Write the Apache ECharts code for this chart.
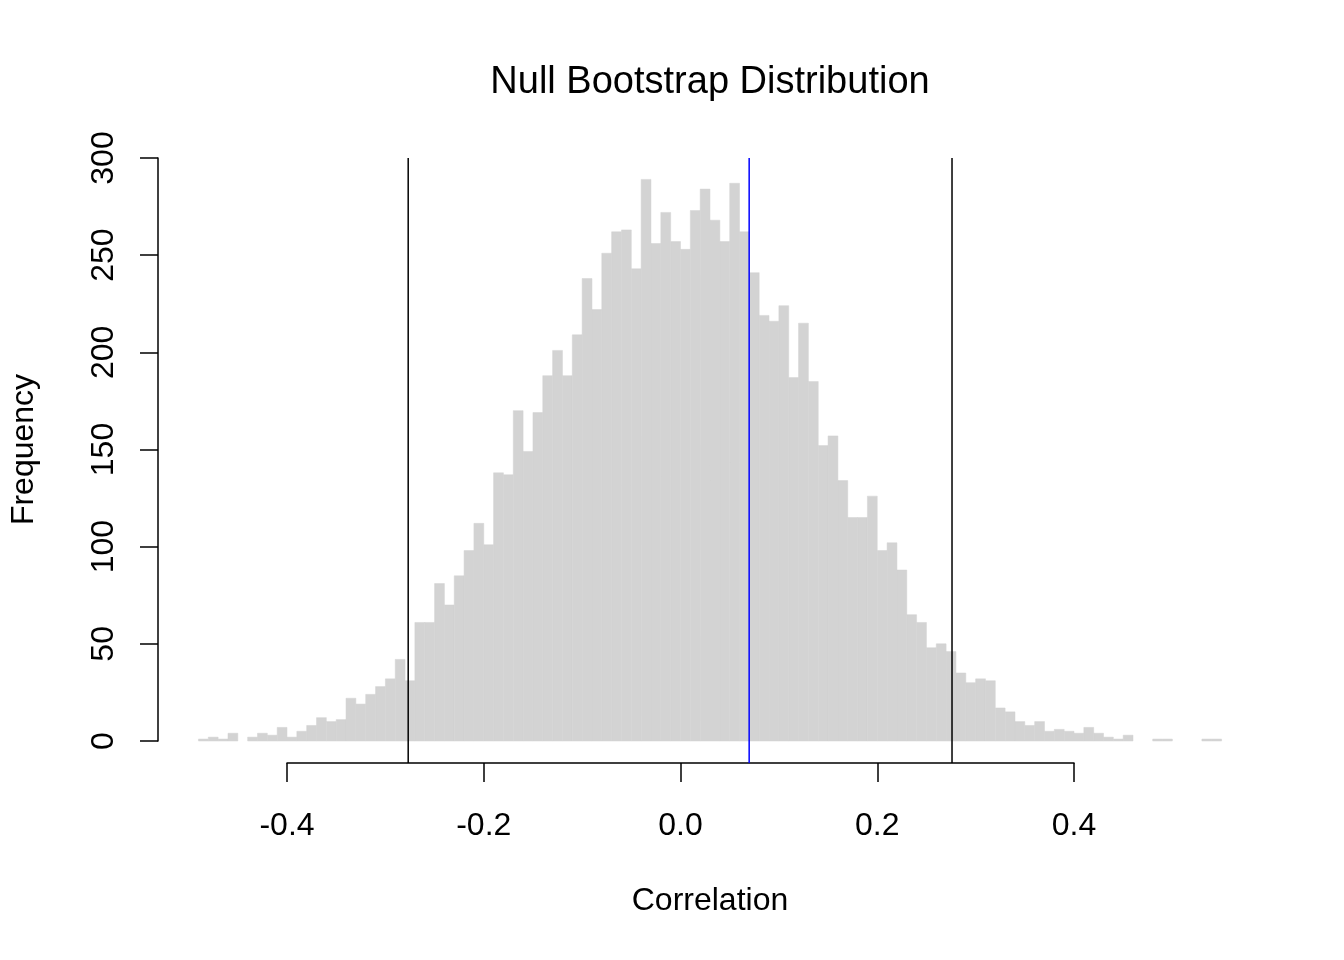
<!DOCTYPE html>
<html>
<head>
<meta charset="utf-8">
<title>Null Bootstrap Distribution</title>
<script src="https://cdn.jsdelivr.net/npm/echarts@6/dist/echarts.min.js"></script>
<style>
  html, body { margin: 0; padding: 0; background: #fff; }
  #hist { width: 1344px; height: 960px; }
</style>
</head>
<body>
<div id="hist"></div>
<script>
// histogram bins (left edges, width 0.01) and their counts
const binLefts = [
  -0.49, -0.48, -0.47, -0.46, -0.45, -0.44, -0.43, -0.42, -0.41, -0.40,
  -0.39, -0.38, -0.37, -0.36, -0.35, -0.34, -0.33, -0.32, -0.31, -0.30,
  -0.29, -0.28, -0.27, -0.26, -0.25, -0.24, -0.23, -0.22, -0.21, -0.20,
  -0.19, -0.18, -0.17, -0.16, -0.15, -0.14, -0.13, -0.12, -0.11, -0.10,
  -0.09, -0.08, -0.07, -0.06, -0.05, -0.04, -0.03, -0.02, -0.01, 0.00,
  0.01, 0.02, 0.03, 0.04, 0.05, 0.06, 0.07, 0.08, 0.09, 0.10,
  0.11, 0.12, 0.13, 0.14, 0.15, 0.16, 0.17, 0.18, 0.19, 0.20,
  0.21, 0.22, 0.23, 0.24, 0.25, 0.26, 0.27, 0.28, 0.29, 0.30,
  0.31, 0.32, 0.33, 0.34, 0.35, 0.36, 0.37, 0.38, 0.39, 0.40,
  0.41, 0.42, 0.43, 0.44, 0.45, 0.46, 0.47, 0.48, 0.49, 0.50,
  0.51, 0.52, 0.53, 0.54
];
const binWidth = 0.01;
const counts = [
  1, 2, 1, 4, 0, 2, 4, 3, 7, 2,
  5, 8, 12, 10, 11, 22, 19, 24, 28, 32,
  42, 31, 61, 61, 81, 70, 85, 98, 112, 101,
  138, 137, 170, 149, 169, 188, 201, 188, 209, 238,
  222, 251, 262, 263, 243, 289, 256, 272, 257, 253,
  273, 284, 268, 257, 287, 262, 241, 219, 216, 224,
  187, 215, 185, 152, 157, 134, 115, 115, 126, 98,
  102, 88, 65, 61, 48, 50, 46, 35, 30, 32,
  31, 17, 15, 10, 8, 10, 5, 6, 5, 4,
  7, 4, 2, 1, 3, 0, 0, 1, 1, 0,
  0, 0, 1, 1
];
const cutoffs = [-0.2768, 0.276];   // black lines
const observed = 0.0698;            // blue line

const FONT = '"Liberation Sans", Arial, Helvetica, sans-serif';

const chart = echarts.init(document.getElementById('hist'));

const barData = binLefts.map((lo, i) => [lo, lo + binWidth, counts[i]]);
const lineData = cutoffs.map((v) => [v, '#000000']).concat([[observed, '#0000ff']]);

const option = {
  backgroundColor: '#ffffff',
  animation: false,
  title: [
    {
      text: 'Null Bootstrap Distribution',
      left: 710,
      top: 64,
      padding: 0,
      textAlign: 'center',
      textStyle: { fontFamily: FONT, fontSize: 38, fontWeight: 'normal', color: '#000' },
    },
    {
      text: 'Correlation',
      left: 710,
      top: 885,
      padding: 0,
      textAlign: 'center',
      textStyle: { fontFamily: FONT, fontSize: 32, fontWeight: 'normal', color: '#000' },
    },
  ],
  grid: [
    // bars
    { left: 287, right: 270, top: 158, bottom: 219 },
    // x axis (drawn lower, R style) and the vertical reference lines
    { left: 287, right: 270, top: 158, bottom: 197 },
  ],
  xAxis: [
    { gridIndex: 0, type: 'value', min: -0.4, max: 0.4, show: false },
    {
      gridIndex: 1,
      type: 'value',
      min: -0.4,
      max: 0.4,
      interval: 0.2,
      axisLine: { show: true, onZero: false, lineStyle: { color: '#000', width: 1.5 } },
      axisTick: { show: true, inside: false, length: 19, lineStyle: { color: '#000', width: 1.5 } },
      axisLabel: {
        margin: 47,
        fontFamily: FONT,
        fontSize: 32,
        color: '#000',
        formatter: (v) => (Math.abs(v) < 1e-9 ? '0.0' : v.toFixed(1)),
      },
      splitLine: { show: false },
    },
  ],
  yAxis: [
    {
      gridIndex: 0,
      type: 'value',
      min: 0,
      max: 300,
      interval: 50,
      offset: 129,
      name: 'Frequency',
      nameLocation: 'middle',
      nameGap: 118,
      nameTextStyle: { fontFamily: FONT, fontSize: 32, color: '#000' },
      axisLine: { show: true, onZero: false, lineStyle: { color: '#000', width: 1.5 } },
      axisTick: { show: true, inside: false, length: 18, lineStyle: { color: '#000', width: 1.5 } },
      axisLabel: { rotate: 90, margin: 38, fontFamily: FONT, fontSize: 32, color: '#000' },
      splitLine: { show: false },
    },
    { gridIndex: 1, type: 'value', min: 0, max: 1, show: false },
  ],
  series: [
    {
      type: 'custom',
      xAxisIndex: 0,
      yAxisIndex: 0,
      clip: false,
      silent: true,
      data: barData,
      renderItem(params, api) {
        if (!api.value(2)) return null;
        const p0 = api.coord([api.value(0), api.value(2)]);
        const p1 = api.coord([api.value(1), 0]);
        return {
          type: 'rect',
          shape: { x: p0[0], y: p0[1], width: p1[0] - p0[0], height: p1[1] - p0[1] },
          style: { fill: '#d3d3d3', stroke: '#d3d3d3', lineWidth: 0.5 },
        };
      },
    },
    {
      type: 'custom',
      xAxisIndex: 1,
      yAxisIndex: 1,
      clip: false,
      silent: true,
      data: lineData,
      renderItem(params, api) {
        const x = api.value(0);
        const a = api.coord([x, 0]);
        const b = api.coord([x, 1]);
        return {
          type: 'line',
          shape: { x1: a[0], y1: a[1], x2: b[0], y2: b[1] },
          style: { stroke: lineData[params.dataIndex][1], lineWidth: 1.5 },
        };
      },
    },
  ],
};

chart.setOption(option);
</script>
</body>
</html>
